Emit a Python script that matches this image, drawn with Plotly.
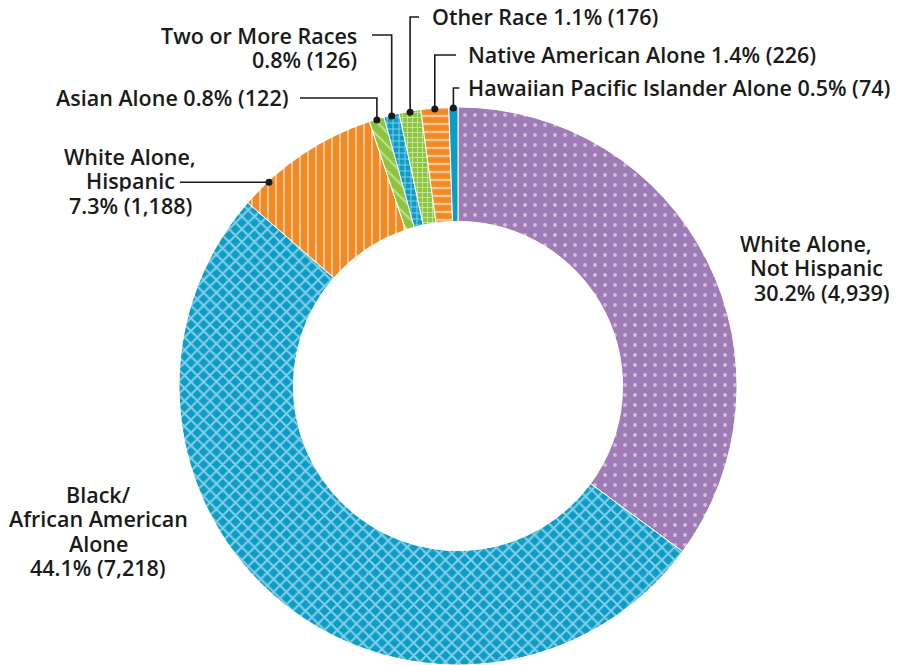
import numpy as np
import plotly.graph_objects as go

# race / ethnicity groups, clockwise from 12 o'clock
groups = ["White Alone, Not Hispanic", "Black/African American Alone",
          "White Alone, Hispanic", "Asian Alone", "Two or More Races",
          "Other Race", "Native American Alone", "Hawaiian Pacific Islander Alone"]
counts = [4939, 7218, 1188, 122, 126, 176, 226, 74]
shares = [30.2, 44.1, 7.3, 0.8, 0.8, 1.1, 1.4, 0.5]

PURPLE, BLUE, ORANGE, GREEN = "#a07cb6", "#0b9dc8", "#f28b26", "#8cc63f"
colors = [PURPLE, BLUE, ORANGE, GREEN, BLUE, GREEN, ORANGE, BLUE]
pat_shape = [".", "x", "|", "\\", "+", "+", "-", ""]
pat_size = [10, 9, 8, 9, 6, 5, 8, 8]
pat_solid = [0.12, 0.4, 0.25, 0.2, 0.3, 0.35, 0.3, 0.3]

W, H = 898, 665
CX, CY, R = 458, 386, 279

fig = go.Figure()
fig.add_trace(go.Pie(
    labels=groups, values=counts, sort=False, direction="clockwise",
    rotation=0, hole=0.59, textinfo="none", showlegend=False,
    domain=dict(x=[(CX - R) / W, (CX + R) / W], y=[0, 2 * R / H]),
    marker=dict(colors=colors, line=dict(color="white", width=1),
                pattern=dict(shape=pat_shape, size=pat_size, solidity=pat_solid,
                             fgcolor="white", fillmode="overlay")),
))

total = sum(counts)
edges = np.cumsum([0] + counts) / total * 360.0


def dot_at(i, frac=0.5, r=R - 1):
    a = np.radians(edges[i] + frac * (edges[i + 1] - edges[i]))
    return CX + r * np.sin(a), CY - r * np.cos(a)


def lab(i):
    return f"{shares[i]}% ({counts[i]:,})"


FONT = dict(family="Open Sans, sans-serif", size=21.5, color="#1a1a1a", weight=600)
LINE_H = 24.5
shapes = []
annotations = []


def add_text(lines, x, y, xanchor):
    # one annotation per line so the line spacing matches the reference
    for k, line in enumerate(lines):
        annotations.append(dict(text=line, x=x, y=y + k * LINE_H, xref="x", yref="y",
                                xanchor=xanchor, yanchor="middle", height=LINE_H - 2,
                                showarrow=False, font=FONT))


def add_leader(pts, dot):
    path = "M " + " L ".join(f"{px:.1f},{py:.1f}" for px, py in pts)
    shapes.append(dict(type="path", path=path, xref="x", yref="y",
                       line=dict(color="#1a1a1a", width=1.6), layer="above"))
    dx, dy = dot
    shapes.append(dict(type="circle", xref="x", yref="y", x0=dx - 3.5, x1=dx + 3.5,
                       y0=dy - 3.5, y1=dy + 3.5, fillcolor="#1a1a1a",
                       line=dict(width=0), layer="above"))


# Hawaiian
d = dot_at(7)
add_leader([d, (d[0], 88), (d[0] + 6, 88)], d)
add_text([f"{groups[7]} {lab(7)}"], 466, 87, "left")
# Native American
d = dot_at(6)
add_leader([d, (d[0], 55), (456, 55)], d)
add_text([f"{groups[6]} {lab(6)}"], 466, 54, "left")
# Other race
d = dot_at(5)
add_leader([d, (d[0], 17), (419, 17)], d)
add_text([f"{groups[5]} {lab(5)}"], 430, 16, "left")
# Two or more races
d = dot_at(4)
add_leader([d, (d[0], 35), (372, 35)], d)
add_text([groups[4], lab(4)], 359, 35, "right")
# Asian
d = dot_at(3)
add_leader([d, (d[0], 98), (300, 98)], d)
add_text([f"{groups[3]} {lab(3)}"], 291, 97, "right")
# White Hispanic
d = dot_at(2, 0.2)
add_leader([d, (180, d[1])], d)
add_text(["White Alone,", "Hispanic", lab(2)], 130, 156, "center")
# Black
add_text(["Black/", "African American", "Alone", lab(1)], 98, 494, "center")
# White not Hispanic
add_text(["White Alone,"], 738, 243, "left")
add_text(["Not Hispanic"], 748, 267, "left")
add_text([lab(0)], 752, 292, "left")

fig.update_layout(
    width=W, height=H, margin=dict(l=0, r=0, t=0, b=0),
    paper_bgcolor="white", plot_bgcolor="rgba(0,0,0,0)",
    xaxis=dict(range=[0, W], visible=False, fixedrange=True),
    yaxis=dict(range=[H, 0], visible=False, fixedrange=True),
    shapes=shapes, annotations=annotations,
)

fig.write_html("out.html", config={"displayModeBar": False},
               post_script="document.body.style.margin='0';")
